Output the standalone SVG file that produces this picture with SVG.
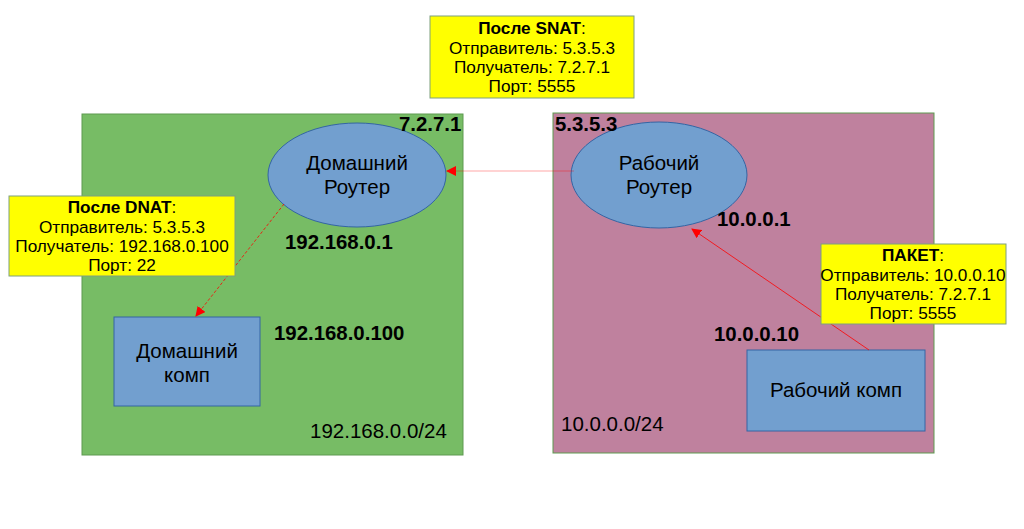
<svg xmlns="http://www.w3.org/2000/svg" width="1024" height="529" viewBox="0 0 1024 529">
<defs>
<style>
.t{font-family:"Liberation Sans",Arial,sans-serif;fill:#000}
.box{font-size:17.2px;text-anchor:middle}
.ip{font-size:20.4px;font-weight:bold}
.net{font-size:20.5px}
.node{font-size:20.5px;text-anchor:middle}
.ell{fill:#729fcf;stroke:#3465a4;stroke-width:1}
.comp{fill:#729fcf;stroke:#3465a4;stroke-width:1}
.note{fill:#ffff00;stroke:#7f9f7f;stroke-width:1}
</style>
<marker id="ah" viewBox="0 0 10 10" refX="9" refY="5" markerWidth="10" markerHeight="10" markerUnits="userSpaceOnUse" orient="auto">
<path d="M0,0 L10,5 L0,10 z" fill="#ff0000"/>
</marker>
</defs>
<rect width="1024" height="529" fill="#fff"/>
<g id="home-net">
<rect x="82" y="114" width="381" height="341" fill="#77bc65" stroke="#5e9a50" stroke-width="1"/>
<text class="t net" x="310" y="438">192.168.0.0/24</text>
</g>
<g id="work-net">
<rect x="553" y="113" width="381" height="340" fill="#bf819e" stroke="#5e9a50" stroke-width="1"/>
<text class="t net" x="561" y="431">10.0.0.0/24</text>
</g>
<g id="home-router">
<ellipse class="ell" cx="357" cy="175" rx="89" ry="52"/>
<text class="t node" x="357" y="170">Домашний</text>
<text class="t node" x="357" y="194">Роутер</text>
</g>
<g id="work-router">
<ellipse class="ell" cx="659" cy="175" rx="88" ry="53"/>
<text class="t node" x="659" y="170">Рабочий</text>
<text class="t node" x="659" y="194">Роутер</text>
</g>
<g id="home-pc">
<rect class="comp" x="114" y="317" width="146" height="89"/>
<text class="t node" x="187" y="358">Домашний</text>
<text class="t node" x="187" y="382">комп</text>
</g>
<g id="work-pc">
<rect class="comp" x="747" y="350" width="178" height="81"/>
<text class="t node" x="836" y="397">Рабочий комп</text>
</g>
<g id="connectors">
<line x1="574" y1="171" x2="447" y2="171" stroke="#ff0000" stroke-opacity="0.35" stroke-width="1.2" marker-end="url(#ah)"/>
<line x1="284" y1="204" x2="196" y2="316" stroke="#ff0000" stroke-width="0.8" stroke-dasharray="3,2" marker-end="url(#ah)"/>
<line x1="869" y1="350" x2="692" y2="229" stroke="#ff0000" stroke-width="0.8" marker-end="url(#ah)"/>
</g>
<g id="labels">
<text class="t ip" x="399" y="131">7.2.7.1</text>
<text class="t ip" x="555" y="131">5.3.5.3</text>
<text class="t ip" x="285" y="249">192.168.0.1</text>
<text class="t ip" x="717" y="226">10.0.0.1</text>
<text class="t ip" x="274" y="340">192.168.0.100</text>
<text class="t ip" x="714" y="341">10.0.0.10</text>
</g>
<g id="snat-note">
<rect class="note" x="430" y="16" width="204" height="82"/>
<text class="t box" x="532" y="34"><tspan font-weight="bold">После SNAT</tspan>:</text>
<text class="t box" x="532" y="54">Отправитель: 5.3.5.3</text>
<text class="t box" x="532" y="73">Получатель: 7.2.7.1</text>
<text class="t box" x="532" y="92">Порт: 5555</text>
</g>
<g id="dnat-note">
<rect class="note" x="9" y="196" width="226" height="80"/>
<text class="t box" x="122" y="213"><tspan font-weight="bold">После DNAT</tspan>:</text>
<text class="t box" x="122" y="233">Отправитель: 5.3.5.3</text>
<text class="t box" x="122" y="252">Получатель: 192.168.0.100</text>
<text class="t box" x="122" y="271">Порт: 22</text>
</g>
<g id="packet-note">
<rect class="note" x="821" y="244" width="185" height="80"/>
<text class="t box" x="913" y="261"><tspan font-weight="bold">ПАКЕТ</tspan>:</text>
<text class="t box" x="913" y="281">Отправитель: 10.0.0.10</text>
<text class="t box" x="913" y="300">Получатель: 7.2.7.1</text>
<text class="t box" x="913" y="319">Порт: 5555</text>
</g>
</svg>
